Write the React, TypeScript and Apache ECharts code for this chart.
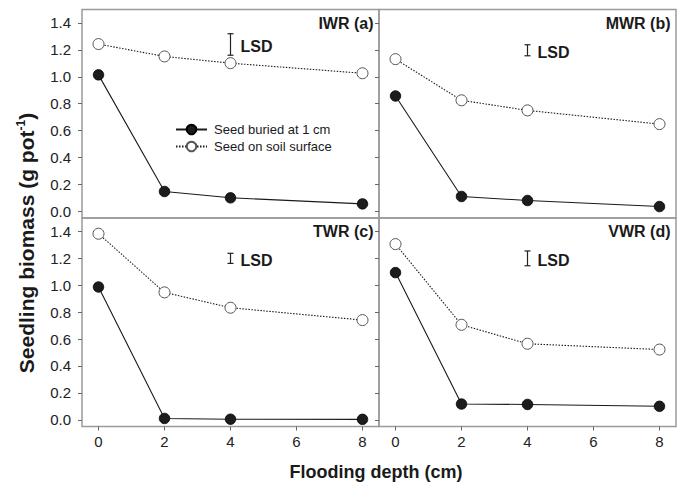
import React, { useEffect, useRef } from "react";
import * as echarts from "echarts";

const depths = [0, 2, 4, 8];
const xTicks = [0, 2, 4, 6, 8];
const yTicks = [0, 0.2, 0.4, 0.6, 0.8, 1.0, 1.2, 1.4];
const panelNames = ["IWR (a)", "MWR (b)", "TWR (c)", "VWR (d)"];

const buriedIWR = [1.014, 0.147, 0.1, 0.055];
const surfaceIWR = [1.243, 1.151, 1.101, 1.026];
const buriedMWR = [0.857, 0.11, 0.08, 0.035];
const surfaceMWR = [1.131, 0.825, 0.75, 0.648];
const buriedTWR = [0.987, 0.01, 0.004, 0.003];
const surfaceTWR = [1.383, 0.947, 0.833, 0.741];
const buriedVWR = [1.094, 0.117, 0.114, 0.1];
const surfaceVWR = [1.306, 0.706, 0.565, 0.522];

// LSD bars: [x position, centre value, length]
const lsdIWR = [4, 1.24, 0.16];
const lsdMWR = [4, 1.197, 0.082];
const lsdTWR = [4, 1.2, 0.075];
const lsdVWR = [4, 1.2, 0.11];

const buriedName = "Seed buried at 1 cm";
const surfaceName = "Seed on soil surface";

const FONT = "'Liberation Sans', Arial, Helvetica, sans-serif";

export default function App() {
  const ref = useRef<HTMLDivElement>(null);
  useEffect(() => {
    if (!ref.current) return;
    const chart = echarts.init(ref.current, null, { renderer: "svg" });
    const buried = [buriedIWR, buriedMWR, buriedTWR, buriedVWR];
    const surface = [surfaceIWR, surfaceMWR, surfaceTWR, surfaceVWR];
    const lsd = [lsdIWR, lsdMWR, lsdTWR, lsdVWR];

    const gw = 297;
    const gh = 208.5;
    const lefts = [82, 379, 82, 379];
    const tops = [9.5, 9.5, 218, 218];

    const grids = lefts.map((l, i) => ({
      left: l,
      top: tops[i],
      width: gw,
      height: gh,
      show: true,
      borderColor: "#9a9a9a",
      borderWidth: 1.5,
      backgroundColor: "transparent",
    }));

    const xAxes = lefts.map((_, i) => ({
      type: "value",
      gridIndex: i,
      min: -0.5,
      max: 8.5,
      position: "bottom",
      axisLine: { show: false, onZero: false },
      splitLine: { show: false },
      axisTick: {
        show: i >= 2,
        customValues: xTicks,
        length: 4,
        lineStyle: { color: "#666", width: 1 },
      },
      axisLabel: {
        show: i >= 2,
        customValues: xTicks,
        color: "#222",
        fontSize: 15,
        fontFamily: FONT,
        margin: 7,
      },
    }));

    const yAxes = lefts.map((_, i) => ({
      type: "value",
      gridIndex: i,
      min: -0.05,
      max: 1.5,
      position: "left",
      axisLine: { show: false, onZero: false },
      splitLine: { show: false },
      axisTick: {
        show: true,
        customValues: yTicks,
        length: 4,
        lineStyle: { color: "#666", width: 1 },
      },
      axisLabel: {
        show: i % 2 === 0,
        customValues: yTicks,
        color: "#222",
        fontSize: 15,
        fontFamily: FONT,
        margin: 11,
        formatter: (v: number) => v.toFixed(1),
      },
    }));

    const series: any[] = [];
    for (let i = 0; i < 4; i++) {
      series.push({
        type: "line",
        name: buriedName,
        xAxisIndex: i,
        yAxisIndex: i,
        data: depths.map((d, k) => [d, buried[i][k]]),
        symbol: "circle",
        symbolSize: 10.5,
        z: 3,
        lineStyle: { color: "#1a1a1a", width: 1.1, type: "solid" },
        itemStyle: { color: "#1c1c1c", borderColor: "#000", borderWidth: 0.8 },
      });
      series.push({
        type: "line",
        name: surfaceName,
        xAxisIndex: i,
        yAxisIndex: i,
        data: depths.map((d, k) => [d, surface[i][k]]),
        symbol: "circle",
        symbolSize: 11,
        z: 3,
        lineStyle: { color: "#1a1a1a", width: 1.1, type: [1.5, 1.5] },
        itemStyle: { color: "#fff", borderColor: "#555", borderWidth: 1 },
      });
      series.push({
        type: "custom",
        xAxisIndex: i,
        yAxisIndex: i,
        data: [lsd[i]],
        z: 4,
        renderItem: (params: any, api: any) => {
          const x = api.value(0);
          const c = api.value(1);
          const l = api.value(2);
          const top = api.coord([x, c + l / 2]);
          const bot = api.coord([x, c - l / 2]);
          const st = { stroke: "#222", lineWidth: 1.2 };
          return {
            type: "group",
            children: [
              { type: "line", shape: { x1: top[0], y1: top[1], x2: bot[0], y2: bot[1] }, style: st },
              { type: "line", shape: { x1: top[0] - 3, y1: top[1], x2: top[0] + 3, y2: top[1] }, style: st },
              { type: "line", shape: { x1: bot[0] - 3, y1: bot[1], x2: bot[0] + 3, y2: bot[1] }, style: st },
              {
                type: "text",
                x: top[0] + 10,
                y: (top[1] + bot[1]) / 2 + 2,
                style: {
                  text: "LSD",
                  fill: "#1a1a1a",
                  font: `bold 16px ${FONT}`,
                  align: "left",
                  verticalAlign: "middle",
                },
              },
            ],
          };
        },
      });
    }

    const graphic: any[] = panelNames.map((n, i) => ({
      type: "text",
      x: lefts[i] + gw - 5.5,
      y: tops[i] + 13.5,
      style: {
        text: n,
        fill: "#1a1a1a",
        font: `bold 16px ${FONT}`,
        align: "right",
        verticalAlign: "middle",
        textAlign: "right",
        textVerticalAlign: "middle",
      },
    }));
    graphic.push({
      type: "text",
      x: 376,
      y: 472,
      style: {
        text: "Flooding depth (cm)",
        fill: "#1a1a1a",
        font: `bold 18px ${FONT}`,
        align: "center",
        verticalAlign: "middle",
        textAlign: "center",
        textVerticalAlign: "middle",
      },
    });
    graphic.push({
      type: "text",
      x: 26,
      y: 243,
      rotation: Math.PI / 2,
      style: {
        text: "{b|Seedling biomass (g pot}{s|-1}{b|)}",
        fill: "#1a1a1a",
        align: "center",
        verticalAlign: "middle",
        textAlign: "center",
        textVerticalAlign: "middle",
        rich: {
          b: { font: `bold 21px ${FONT}`, fill: "#1a1a1a", lineHeight: 23 },
          s: { font: `bold 12px ${FONT}`, fill: "#1a1a1a", verticalAlign: "top", lineHeight: 23 },
        },
      },
    });

    chart.setOption({
      animation: false,
      backgroundColor: "#fff",
      grid: grids,
      xAxis: xAxes,
      yAxis: yAxes,
      legend: {
        left: 170,
        top: 118,
        orient: "vertical",
        itemWidth: 31,
        itemHeight: 12,
        itemGap: 4,
        data: [buriedName, surfaceName],
        textStyle: { fontSize: 13, fontFamily: FONT, color: "#1a1a1a", padding: [0, 0, 0, 2] },
        selectedMode: false,
      },
      graphic,
      series,
    });
    return () => chart.dispose();
  }, []);
  return (
    <div
      ref={ref}
      style={{ position: "fixed", left: 0, top: 0, width: 687, height: 489, background: "#fff" }}
    />
  );
}
